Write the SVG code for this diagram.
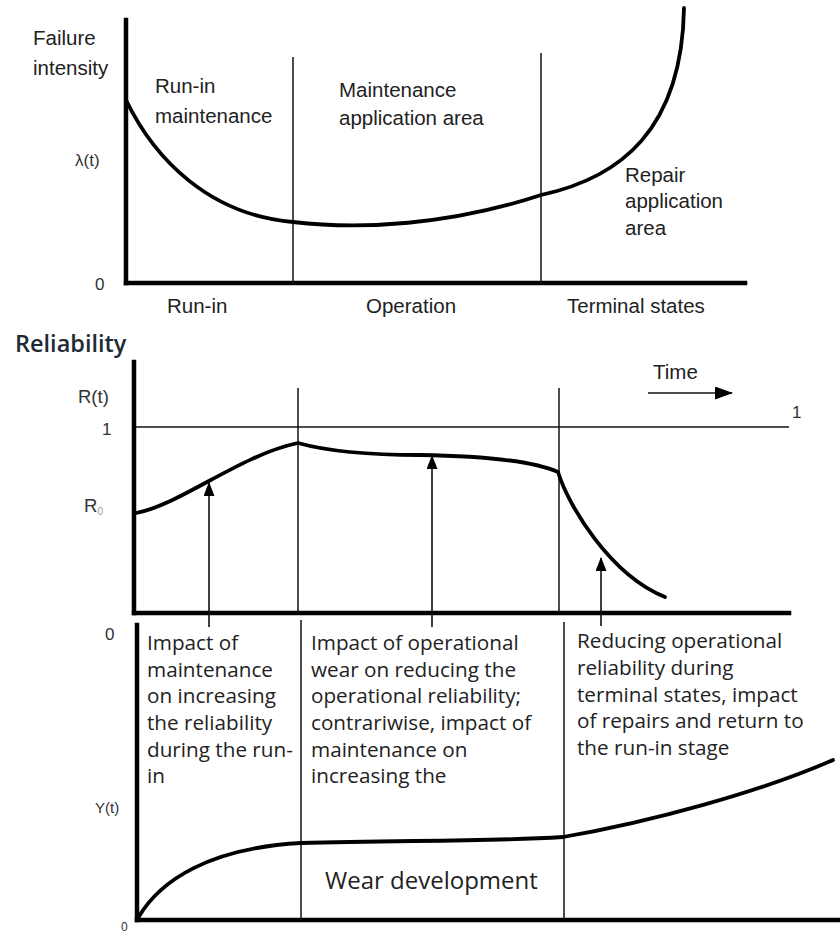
<svg xmlns="http://www.w3.org/2000/svg" width="840" height="935" viewBox="0 0 840 935">
<defs>
<style>
.ar{font-family:"Liberation Sans",Arial,sans-serif;fill:#222;font-size:20.5px}
.sm{font-family:"Liberation Sans",Arial,sans-serif;fill:#333;font-size:17px}
.ca{font-family:"Open Sans","Noto Sans",sans-serif;fill:#222;font-size:20.7px}
.axis{stroke:#000;stroke-width:4.5;fill:none;stroke-linecap:square}
.thin{stroke:#111;stroke-width:1.5;fill:none}
.curve{stroke:#000;stroke-width:3.8;fill:none;stroke-linecap:round}
.arrow{stroke:#111;stroke-width:1.6;fill:none}
</style>
<marker id="ah" viewBox="0 0 14 11" refX="13" refY="5.5" markerWidth="14" markerHeight="11" markerUnits="userSpaceOnUse" orient="auto">
<path d="M0,0 L14,5.5 L0,11 Z" fill="#000"/>
</marker>
<marker id="ah2" viewBox="0 0 18 13" refX="17" refY="6.5" markerWidth="18" markerHeight="13" markerUnits="userSpaceOnUse" orient="auto">
<path d="M0,0 L18,6.5 L0,13 Z" fill="#000"/>
</marker>
</defs>
<rect width="840" height="935" fill="#fff"/>

<g id="failure-chart">
<line class="axis" x1="126" y1="20" x2="126" y2="283"/>
<line class="axis" x1="126" y1="283" x2="745" y2="283"/>
<line class="thin" x1="293" y1="57" x2="293" y2="283"/>
<line class="thin" x1="541" y1="53" x2="541" y2="283"/>
<path class="curve" d="M126,100 C155,160 210,215 293,222 C360,230 450,225 541,195 C620,178 682,130 684,8"/>
<text class="ar" x="33" y="45">Failure</text>
<text class="ar" x="33" y="75">intensity</text>
<text class="ar" x="155" y="93">Run-in</text>
<text class="ar" x="155" y="123">maintenance</text>
<text class="ar" x="339" y="97">Maintenance</text>
<text class="ar" x="339" y="125">application area</text>
<text class="ar" x="625" y="182">Repair</text>
<text class="ar" x="625" y="208">application</text>
<text class="ar" x="625" y="235">area</text>
<text class="sm" x="75" y="166">λ(t)</text>
<text class="sm" x="95" y="290">0</text>
<text class="ar" x="167" y="313">Run-in</text>
<text class="ar" x="366" y="313">Operation</text>
<text class="ar" x="567" y="313">Terminal states</text>
</g>

<g id="reliability-chart">
<text x="15" y="352" style="font-family:'Open Sans','Noto Sans',sans-serif;font-size:23.5px;font-weight:600;fill:#1f2a36">Reliability</text>
<line class="axis" x1="134" y1="362" x2="134" y2="613"/>
<line class="axis" x1="134" y1="613" x2="789" y2="613"/>
<line class="thin" x1="136" y1="427" x2="789" y2="427"/>
<line class="thin" x1="298" y1="388" x2="298" y2="613"/>
<line class="thin" x1="559" y1="388" x2="559" y2="613"/>
<path class="curve" d="M136,513 C180,505 240,455 298,443 C330,452 370,455 420,455 C490,456 535,462 558,472 C568,505 610,575 665,597"/>
<text class="sm" x="78" y="403" style="font-size:18.5px">R(t)</text>
<text class="sm" x="102" y="435">1</text>
<text class="sm" x="84" y="512" style="font-size:18.5px">R<tspan dy="3" style="font-size:10px;fill:#999">0</tspan></text>
<text class="ar" x="653" y="379">Time</text>
<line class="thin" x1="648" y1="393" x2="732" y2="393" stroke-width="2.8" marker-end="url(#ah2)"/>
<text class="sm" x="792" y="418">1</text>
<text class="sm" x="105" y="640">0</text>
</g>

<g id="connectors">
<line class="arrow" x1="209" y1="627" x2="209" y2="483" marker-end="url(#ah)"/>
<line class="arrow" x1="432" y1="627" x2="432" y2="456" marker-end="url(#ah)"/>
<line class="arrow" x1="601" y1="626" x2="601" y2="558" marker-end="url(#ah)"/>
</g>

<g id="wear-chart">
<line class="axis" x1="137" y1="625" x2="137" y2="920"/>
<line class="axis" x1="137" y1="920" x2="840" y2="920"/>
<line class="thin" x1="301" y1="620" x2="301" y2="920"/>
<line class="thin" x1="564" y1="622" x2="564" y2="920"/>
<path class="curve" d="M138,918 C160,880 210,848 301,843 C400,840 480,842 563,837 C650,822 760,792 833,760"/>
<text class="sm" x="95" y="813" style="font-size:15px">Y(t)</text>
<text class="sm" x="121" y="931" style="font-size:12px">0</text>
<text class="ca" x="325" y="889" style="font-size:24px">Wear development</text>
</g>

<g id="text-runin">
<text class="ca" x="147" y="650">Impact of</text>
<text class="ca" x="147" y="677">maintenance</text>
<text class="ca" x="147" y="703">on increasing</text>
<text class="ca" x="147" y="730">the reliability</text>
<text class="ca" x="147" y="757">during the run-</text>
<text class="ca" x="147" y="783">in</text>
</g>

<g id="text-operation">
<text class="ca" x="311" y="650">Impact of operational</text>
<text class="ca" x="311" y="677">wear on reducing the</text>
<text class="ca" x="311" y="703">operational reliability;</text>
<text class="ca" x="311" y="730">contrariwise, impact of</text>
<text class="ca" x="311" y="757">maintenance on</text>
<text class="ca" x="311" y="783">increasing the</text>
</g>

<g id="text-terminal">
<text class="ca" x="577" y="648">Reducing operational</text>
<text class="ca" x="577" y="675">reliability during</text>
<text class="ca" x="577" y="702">terminal states, impact</text>
<text class="ca" x="577" y="728">of repairs and return to</text>
<text class="ca" x="577" y="755">the run-in stage</text>
</g>
</svg>
